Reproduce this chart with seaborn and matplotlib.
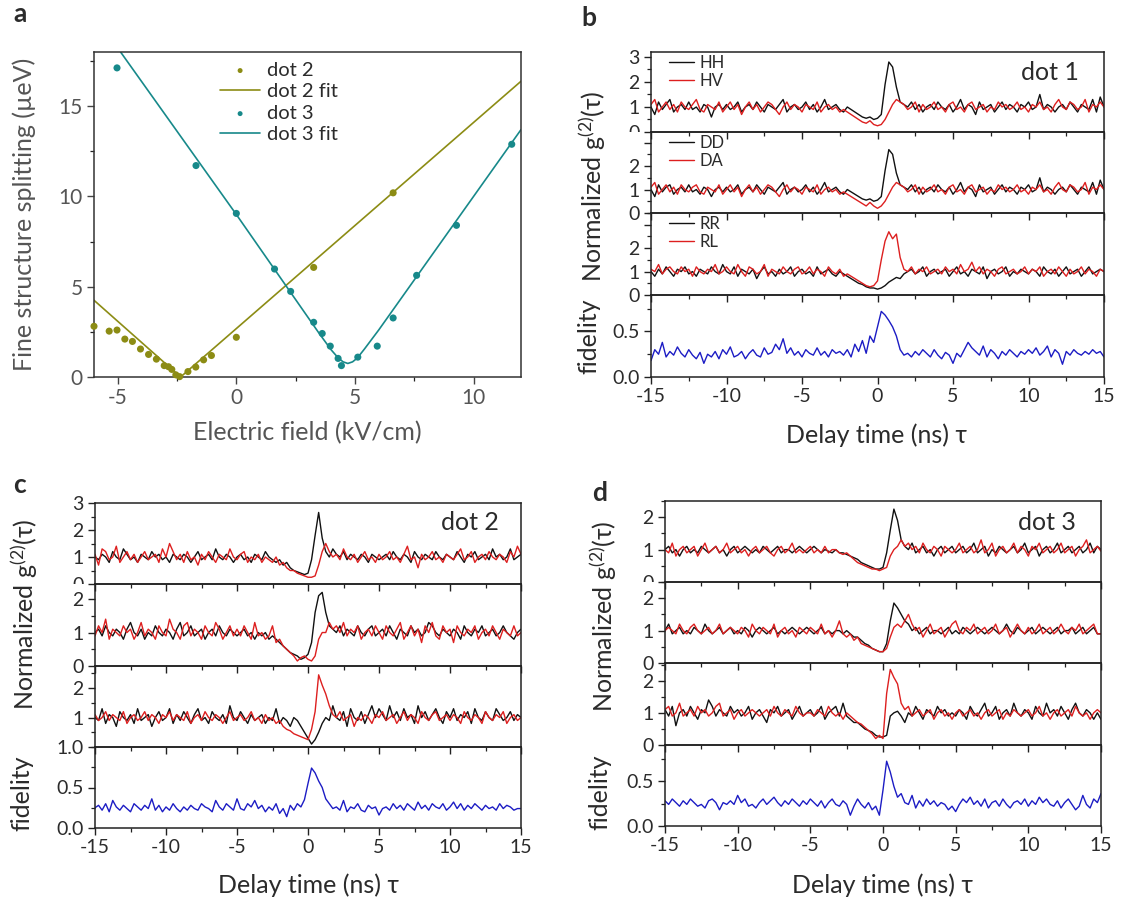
import numpy as np
import matplotlib
matplotlib.use("Agg")
import matplotlib.pyplot as plt
import seaborn as sns
from matplotlib.ticker import MultipleLocator, FixedLocator, FixedFormatter
from matplotlib.transforms import Bbox, TransformedBbox

# ---------------- panel a data ----------------
dot2_field = [-6.0, -5.36, -5.03, -4.70, -4.38, -4.04, -3.70, -3.37, -3.04, -2.86,
              -2.72, -2.55, -2.39, -2.04, -1.71, -1.38, -1.05, 0.0, 3.26, 6.61]
dot2_fss = [2.81, 2.54, 2.60, 2.10, 1.97, 1.55, 1.25, 0.99, 0.63, 0.57,
            0.42, 0.12, 0.02, 0.30, 0.55, 0.95, 1.19, 2.20, 6.07, 10.20]
dot2_fit_field = [-6.0, -2.35, 12.0]
dot2_fit_fss = [4.25, 0.0, 16.38]

dot3_field = [-5.03, -1.70, 0.0, 1.61, 2.29, 3.26, 3.62, 3.96, 4.29, 4.43,
              5.12, 5.94, 6.61, 7.60, 9.28, 11.61]
dot3_fss = [17.12, 11.71, 9.06, 5.98, 4.74, 3.03, 2.41, 1.71, 1.03, 0.63,
            1.10, 1.71, 3.27, 5.63, 8.40, 12.89]
dot3_fit_field = [-4.88, 0.0, 3.5, 4.0, 4.3, 4.5, 4.7, 4.9, 5.1, 5.4, 6.0, 12.0]
dot3_fit_fss = [18.0, 9.0, 2.4, 1.5, 1.05, 0.84, 0.75, 0.84, 1.05, 1.55, 2.6, 13.7]

# ---------------- correlation traces (0.25 ns bins, -15 ... 15 ns) ----------------
delay = np.round(np.arange(121) * 0.25 - 15.0, 2)

dot1_HH = [1.0, 0.7, 1.2, 0.9, 1.1, 1.3, 0.8, 1.0, 1.1, 0.9, 1.2, 0.9, 1.0, 0.8, 1.1, 1.0, 0.6, 1.0, 1.1, 0.9,
           1.1, 0.9, 1.0, 1.2, 0.8, 1.0, 1.1, 0.9, 1.2, 1.0, 0.8, 1.1, 1.0, 0.9, 1.1, 1.3, 0.8, 1.0, 1.1, 0.9,
           1.0, 1.2, 0.9, 1.1, 0.8, 1.0, 1.3, 0.9, 1.0, 1.1, 0.9, 0.8, 1.0, 0.9, 0.8, 0.7, 0.6, 0.55, 0.6, 0.5,
           0.55, 0.7, 1.9, 2.8, 2.6, 1.8, 1.2, 1.1, 1.0, 1.2, 0.9, 1.1, 0.8, 1.0, 1.1, 0.9, 1.2, 1.0, 0.9, 1.1,
           0.8, 1.0, 1.3, 0.9, 1.1, 1.0, 0.7, 1.2, 0.9, 1.0, 1.1, 0.8, 1.0, 1.2, 0.9, 1.1, 1.0, 0.8, 1.1, 1.0,
           1.2, 0.9, 1.0, 1.5, 0.9, 1.1, 1.0, 0.8, 1.0, 1.1, 0.9, 1.2, 1.0, 0.8, 1.1, 1.0, 0.9, 1.3, 0.8, 1.4, 1.0]
dot1_HV = [1.1, 1.3, 0.8, 1.0, 1.2, 0.9, 1.1, 0.8, 1.2, 1.0, 0.9, 1.1, 1.3, 0.9, 0.8, 1.1, 1.0, 0.9, 1.2, 0.8,
           1.0, 1.2, 0.9, 1.1, 0.7, 1.0, 1.2, 0.9, 1.1, 0.8, 1.0, 1.2, 1.1, 0.9, 0.7, 1.0, 1.2, 0.9, 1.1, 1.0,
           0.8, 1.1, 1.0, 0.9, 1.2, 0.8, 1.0, 1.1, 0.9, 1.0, 0.8, 0.9, 0.8, 0.7, 0.6, 0.5, 0.4, 0.35, 0.45, 0.3,
           0.25, 0.3, 0.5, 0.8, 1.1, 1.3, 1.2, 1.1, 0.9, 1.0, 1.2, 0.8, 1.1, 0.9, 1.0, 1.2, 0.9, 1.0, 0.8, 1.1,
           1.2, 0.9, 1.0, 0.8, 1.1, 1.2, 0.9, 1.0, 1.1, 0.8, 1.0, 0.9, 1.2, 1.0, 1.1, 0.9, 1.0, 1.2, 0.9, 1.0,
           0.8, 1.1, 1.0, 1.2, 0.9, 1.0, 0.8, 1.1, 1.3, 1.0, 0.9, 1.2, 1.1, 0.9, 1.0, 1.3, 0.8, 1.1, 1.0, 1.2, 1.0]
dot1_DD = [1.0, 0.7, 1.2, 0.9, 1.1, 1.2, 0.8, 1.0, 1.1, 0.9, 1.2, 0.9, 1.0, 0.8, 1.1, 1.0, 0.7, 1.0, 1.1, 0.9,
           1.1, 0.9, 1.0, 1.2, 0.8, 1.0, 1.1, 0.9, 1.2, 1.0, 0.8, 1.1, 1.0, 0.9, 1.1, 1.3, 0.8, 1.0, 1.1, 0.9,
           1.0, 1.2, 0.9, 1.1, 0.8, 1.0, 1.3, 0.9, 1.0, 1.1, 0.9, 0.8, 1.0, 0.9, 0.8, 0.7, 0.6, 0.55, 0.6, 0.5,
           0.55, 0.7, 1.8, 2.7, 2.5, 1.7, 1.2, 1.1, 1.0, 1.2, 0.9, 1.1, 0.8, 1.0, 1.1, 0.9, 1.2, 1.0, 0.9, 1.1,
           0.8, 1.0, 1.3, 0.9, 1.1, 1.0, 0.7, 1.2, 0.9, 1.0, 1.1, 0.8, 1.0, 1.2, 0.9, 1.1, 1.0, 0.8, 1.1, 1.0,
           1.2, 0.9, 1.0, 1.5, 0.9, 1.1, 1.0, 0.8, 1.0, 1.1, 0.9, 1.2, 1.0, 0.8, 1.1, 1.0, 0.9, 1.3, 0.8, 1.4, 1.0]
dot1_DA = [1.1, 1.3, 0.8, 1.0, 1.2, 0.9, 1.1, 0.8, 1.2, 1.0, 0.9, 1.1, 1.2, 0.9, 0.8, 1.1, 1.0, 0.9, 1.2, 0.8,
           1.0, 1.2, 0.9, 1.1, 0.7, 1.0, 1.2, 0.9, 1.1, 0.8, 1.0, 1.2, 1.1, 0.9, 0.7, 1.0, 1.2, 0.9, 1.1, 1.0,
           0.8, 1.1, 1.0, 0.9, 1.2, 0.8, 1.0, 1.1, 0.9, 1.0, 0.8, 0.9, 0.8, 0.7, 0.6, 0.5, 0.4, 0.3, 0.45, 0.3,
           0.2, 0.3, 0.5, 0.8, 1.1, 1.3, 1.2, 1.1, 0.9, 1.0, 1.2, 0.8, 1.1, 0.9, 1.0, 1.2, 0.9, 1.0, 0.8, 1.1,
           1.2, 0.9, 1.0, 0.8, 1.1, 1.2, 0.9, 1.0, 1.1, 0.8, 1.0, 0.9, 1.2, 1.0, 1.1, 0.9, 1.0, 1.2, 0.9, 1.0,
           0.8, 1.1, 1.0, 1.2, 0.9, 1.0, 0.8, 1.1, 1.3, 1.0, 0.9, 1.2, 1.1, 0.9, 1.0, 1.3, 0.8, 1.1, 1.0, 1.2, 1.0]
dot1_RR = [1.0, 0.8, 1.1, 0.9, 1.2, 1.0, 0.8, 1.1, 1.0, 1.2, 0.9, 1.0, 0.8, 1.1, 1.0, 0.9, 1.2, 1.0, 0.9, 1.3,
           1.0, 0.9, 1.2, 0.8, 1.1, 1.0, 0.9, 1.1, 0.7, 1.0, 1.2, 0.9, 1.0, 0.8, 1.1, 0.9, 1.0, 1.2, 0.8, 1.0,
           1.1, 0.9, 1.0, 0.8, 1.2, 0.9, 1.0, 1.1, 0.9, 0.8, 1.0, 0.9, 0.8, 0.7, 0.6, 0.5, 0.45, 0.35, 0.3, 0.3,
           0.25, 0.3, 0.4, 0.55, 0.65, 0.75, 0.7, 0.9, 1.0, 1.1, 0.9, 1.0, 1.2, 0.8, 1.0, 1.1, 0.9, 1.0, 1.1, 0.8,
           1.0, 1.2, 0.9, 1.0, 0.8, 1.1, 1.0, 0.9, 1.2, 0.7, 1.0, 1.1, 0.9, 1.0, 1.2, 0.8, 1.0, 0.9, 1.1, 1.0,
           0.9, 1.1, 1.0, 0.8, 1.2, 1.0, 0.9, 1.1, 0.8, 1.0, 1.2, 0.9, 1.0, 1.1, 0.8, 1.0, 1.2, 0.9, 1.0, 1.1, 1.0]
dot1_RL = [1.1, 1.0, 1.3, 0.9, 1.1, 1.2, 1.0, 0.9, 1.2, 1.0, 1.1, 0.8, 1.2, 1.0, 0.9, 1.1, 1.0, 1.3, 0.9, 1.0,
           1.2, 1.0, 0.9, 1.3, 1.0, 0.8, 1.2, 1.1, 0.9, 1.0, 1.3, 0.8, 1.1, 1.0, 0.9, 1.2, 1.0, 0.9, 1.1, 1.2,
           0.9, 1.0, 1.2, 0.9, 1.1, 1.0, 0.8, 1.2, 1.0, 0.9, 1.1, 0.8, 0.9, 0.8, 0.7, 0.6, 0.5, 0.4, 0.35, 0.4,
           0.6, 1.5, 2.3, 2.7, 2.4, 2.6, 1.6, 1.1, 1.0, 1.2, 0.9, 1.1, 1.0, 1.2, 0.9, 1.0, 1.1, 0.9, 1.2, 1.0,
           1.1, 0.9, 1.3, 1.0, 1.1, 1.4, 1.0, 1.2, 0.9, 1.1, 1.0, 0.8, 1.1, 1.2, 0.9, 1.0, 1.1, 0.9, 1.0, 1.2,
           0.9, 1.1, 1.0, 1.2, 0.8, 1.0, 1.1, 0.9, 1.2, 1.0, 0.8, 1.1, 0.9, 1.0, 1.2, 0.9, 1.1, 1.0, 0.8, 1.1, 1.0]
dot1_fidelity = [0.18, 0.30, 0.25, 0.38, 0.22, 0.28, 0.24, 0.33, 0.26, 0.22, 0.30, 0.24, 0.20, 0.27, 0.15, 0.25, 0.22, 0.28, 0.20, 0.30,
                 0.25, 0.33, 0.22, 0.24, 0.28, 0.20, 0.26, 0.30, 0.24, 0.22, 0.32, 0.25, 0.27, 0.36, 0.30, 0.42, 0.26, 0.32, 0.24, 0.28,
                 0.22, 0.30, 0.26, 0.24, 0.32, 0.24, 0.28, 0.22, 0.30, 0.26, 0.28, 0.24, 0.30, 0.22, 0.36, 0.28, 0.40, 0.26, 0.45, 0.38,
                 0.55, 0.72, 0.68, 0.62, 0.55, 0.45, 0.30, 0.24, 0.26, 0.22, 0.28, 0.24, 0.30, 0.26, 0.22, 0.30, 0.24, 0.20, 0.27, 0.24,
                 0.15, 0.26, 0.22, 0.30, 0.38, 0.32, 0.28, 0.24, 0.34, 0.22, 0.30, 0.26, 0.20, 0.28, 0.24, 0.30, 0.26, 0.22, 0.28, 0.25,
                 0.30, 0.26, 0.32, 0.24, 0.28, 0.34, 0.22, 0.30, 0.26, 0.14, 0.28, 0.24, 0.30, 0.26, 0.24, 0.28, 0.25, 0.30, 0.26, 0.28, 0.22]

dot2_HH = [1.0, 0.9, 1.1, 1.0, 0.8, 1.2, 1.0, 0.9, 1.3, 1.1, 0.9, 1.0, 0.8, 1.1, 1.0, 0.9, 1.2, 1.0, 1.1, 0.9,
           1.0, 0.8, 1.1, 1.0, 0.9, 1.1, 1.0, 0.8, 1.0, 1.2, 0.9, 1.0, 1.1, 0.9, 1.3, 1.0, 0.9, 1.1, 1.0, 0.8,
           1.0, 1.1, 0.9, 1.0, 0.8, 1.1, 1.0, 0.9, 1.2, 1.0, 0.9, 0.8, 0.9, 0.7, 0.8, 0.6, 0.5, 0.45, 0.4, 0.35,
           0.4, 0.9, 1.8, 2.65, 1.7, 1.2, 1.0, 1.3, 1.1, 1.0, 1.2, 0.9, 1.1, 1.0, 0.9, 1.1, 1.0, 0.8, 1.1, 1.0,
           0.9, 1.0, 1.1, 0.9, 1.2, 1.0, 0.9, 1.1, 1.0, 0.8, 1.2, 1.0, 0.9, 1.1, 1.0, 0.9, 1.2, 1.0, 0.9, 1.1,
           1.0, 0.9, 1.2, 1.0, 0.8, 1.1, 1.0, 1.2, 0.9, 1.0, 1.1, 0.9, 1.3, 1.0, 1.1, 0.9, 1.0, 1.3, 0.9, 1.0, 1.1]
dot2_HV = [1.1, 0.7, 1.3, 1.2, 0.9, 1.0, 1.4, 0.8, 1.0, 1.2, 0.9, 1.1, 0.8, 1.0, 1.2, 0.9, 1.0, 1.1, 0.8, 1.3,
           1.0, 1.5, 1.2, 0.9, 1.1, 0.8, 1.2, 0.9, 1.0, 0.7, 1.1, 0.9, 1.2, 1.0, 0.8, 1.1, 1.0, 0.9, 1.3, 1.0,
           0.9, 1.1, 1.2, 0.8, 1.0, 0.9, 1.1, 0.8, 1.0, 0.9, 0.8, 1.0, 0.7, 0.8, 0.6, 0.5, 0.5, 0.4, 0.35, 0.3,
           0.25, 0.25, 0.3, 0.7, 1.2, 1.5, 1.2, 1.0, 1.1, 0.9, 1.3, 1.0, 0.9, 1.1, 0.8, 1.0, 1.2, 0.9, 1.0, 0.8,
           1.1, 0.9, 1.0, 1.2, 0.9, 1.0, 0.8, 1.1, 1.4, 0.9, 1.0, 0.6, 1.1, 0.9, 1.0, 1.2, 0.9, 1.0, 0.8, 1.1,
           1.0, 0.9, 1.1, 1.3, 0.9, 1.0, 1.2, 0.8, 1.0, 1.1, 0.9, 1.2, 1.0, 0.9, 1.1, 1.0, 0.8, 1.2, 1.0, 1.4, 1.1]
dot2_DD = [1.0, 1.1, 0.9, 1.2, 1.0, 0.9, 1.1, 1.0, 0.8, 1.1, 1.3, 1.0, 0.9, 1.1, 0.8, 1.0, 0.9, 1.2, 1.0, 0.9,
           1.1, 1.0, 0.8, 1.1, 1.3, 0.9, 1.0, 1.2, 0.9, 1.0, 1.1, 0.8, 1.0, 1.1, 0.9, 1.2, 1.0, 0.9, 1.1, 1.0,
           0.9, 1.0, 1.1, 0.9, 1.0, 0.8, 1.0, 0.9, 1.0, 0.8, 0.9, 0.8, 0.7, 0.6, 0.5, 0.4, 0.35, 0.3, 0.2, 0.25,
           0.35, 0.7, 1.6, 2.1, 2.2, 1.6, 1.2, 1.1, 1.0, 1.2, 0.9, 1.1, 1.0, 0.9, 1.2, 1.0, 0.9, 1.1, 1.2, 0.9,
           1.0, 1.1, 0.9, 1.2, 1.0, 0.8, 1.1, 1.0, 0.9, 1.2, 1.0, 1.1, 0.9, 1.0, 1.3, 1.2, 1.0, 0.9, 1.1, 1.0,
           0.9, 1.1, 1.0, 0.8, 1.2, 1.0, 0.9, 1.1, 1.0, 1.2, 0.9, 1.0, 1.1, 0.9, 1.0, 1.2, 1.0, 0.9, 0.8, 1.0, 1.1]
dot2_DA = [0.9, 1.2, 1.0, 1.4, 0.8, 1.1, 1.0, 0.9, 1.2, 1.0, 1.1, 0.8, 1.0, 1.3, 0.9, 1.1, 1.0, 0.8, 1.2, 1.0,
           0.9, 1.4, 1.1, 1.0, 0.8, 1.2, 1.3, 0.9, 1.1, 1.0, 0.8, 1.2, 1.0, 0.9, 1.3, 1.1, 0.8, 1.0, 1.2, 0.9,
           1.1, 0.9, 1.2, 1.0, 0.8, 1.3, 0.9, 1.0, 0.8, 0.9, 1.2, 0.7, 0.8, 0.6, 0.5, 0.4, 0.3, 0.15, 0.25, 0.3,
           0.2, 0.15, 0.3, 0.8, 1.0, 1.0, 1.3, 1.1, 1.2, 1.0, 1.3, 0.9, 1.1, 1.0, 1.2, 0.8, 1.0, 1.1, 0.9, 1.2,
           1.0, 0.8, 1.2, 1.0, 0.9, 1.1, 1.3, 0.8, 1.0, 1.2, 0.9, 1.1, 0.7, 1.2, 1.0, 1.3, 0.9, 0.8, 1.2, 1.0,
           1.1, 0.7, 1.2, 1.0, 0.9, 1.1, 1.0, 1.2, 0.8, 1.0, 1.1, 0.9, 1.2, 1.0, 0.8, 1.1, 1.0, 0.9, 1.2, 0.9, 1.0]
dot2_RR = [1.0, 0.9, 1.3, 0.8, 1.1, 1.0, 0.7, 1.2, 1.0, 0.9, 1.1, 0.8, 1.3, 0.9, 1.0, 1.1, 0.7, 1.0, 1.2, 0.9,
           1.0, 1.3, 0.8, 1.1, 0.9, 1.2, 1.0, 0.8, 1.1, 1.3, 0.9, 1.0, 0.8, 1.2, 1.0, 0.9, 1.1, 0.8, 1.4, 1.0,
           0.9, 1.2, 1.0, 0.8, 1.1, 0.9, 1.0, 1.1, 0.8, 1.0, 0.9, 1.3, 0.8, 1.0, 0.9, 0.7, 1.0, 0.9, 0.7, 0.5,
           0.3, 0.1, 0.25, 0.5, 0.8, 1.0, 0.9, 1.4, 1.0, 0.9, 1.2, 0.7, 1.3, 1.0, 0.9, 1.2, 0.8, 1.1, 1.4, 1.0,
           1.3, 1.1, 0.9, 1.4, 1.0, 1.2, 0.9, 1.3, 1.0, 1.1, 0.8, 1.4, 1.0, 1.2, 0.9, 1.1, 1.3, 1.0, 0.8, 1.2,
           1.0, 1.3, 0.9, 1.1, 1.0, 1.2, 0.8, 1.3, 1.0, 0.9, 1.2, 1.0, 0.9, 1.3, 1.1, 0.9, 1.0, 1.2, 0.9, 1.1, 1.0]
dot2_RL = [1.1, 0.9, 1.0, 1.2, 0.9, 1.1, 1.0, 0.9, 1.2, 0.8, 1.0, 1.1, 0.9, 1.0, 1.2, 0.9, 1.1, 1.0, 0.8, 1.1,
           1.0, 1.2, 0.9, 1.1, 1.0, 0.9, 1.2, 0.8, 1.0, 1.1, 0.9, 1.2, 1.0, 0.9, 1.1, 1.0, 0.8, 1.0, 1.2, 0.9,
           1.0, 1.1, 0.9, 1.0, 1.2, 0.9, 1.0, 0.8, 1.1, 0.9, 1.0, 0.8, 0.9, 0.7, 0.6, 0.55, 0.45, 0.4, 0.35, 0.3,
           0.25, 0.6, 1.2, 2.45, 2.1, 1.8, 1.4, 1.1, 1.0, 1.2, 0.9, 1.0, 1.1, 0.7, 1.0, 0.9, 1.1, 1.0, 0.8, 1.1,
           1.0, 1.2, 0.9, 1.0, 1.1, 0.8, 1.0, 1.2, 0.9, 1.1, 1.0, 0.8, 1.2, 1.0, 0.9, 1.1, 1.2, 0.9, 1.0, 1.1,
           0.9, 1.1, 1.0, 0.8, 1.2, 1.0, 0.9, 1.1, 1.0, 0.8, 1.2, 1.0, 0.9, 1.1, 1.0, 1.2, 0.8, 1.0, 1.1, 0.9, 1.0]
dot2_fidelity = [0.25, 0.28, 0.22, 0.30, 0.20, 0.34, 0.26, 0.22, 0.28, 0.24, 0.20, 0.30, 0.26, 0.22, 0.28, 0.24, 0.36, 0.22, 0.28, 0.20,
                 0.26, 0.22, 0.30, 0.24, 0.20, 0.26, 0.22, 0.28, 0.24, 0.22, 0.30, 0.26, 0.24, 0.20, 0.34, 0.26, 0.22, 0.30, 0.26, 0.22,
                 0.36, 0.24, 0.22, 0.30, 0.26, 0.34, 0.24, 0.28, 0.20, 0.26, 0.22, 0.30, 0.18, 0.24, 0.14, 0.28, 0.22, 0.30, 0.26, 0.35,
                 0.55, 0.74, 0.68, 0.58, 0.50, 0.36, 0.30, 0.24, 0.26, 0.22, 0.34, 0.20, 0.26, 0.24, 0.30, 0.22, 0.20, 0.28, 0.24, 0.26,
                 0.16, 0.24, 0.26, 0.22, 0.30, 0.24, 0.28, 0.22, 0.30, 0.26, 0.22, 0.32, 0.24, 0.28, 0.22, 0.30, 0.26, 0.24, 0.30, 0.22,
                 0.26, 0.32, 0.24, 0.30, 0.22, 0.28, 0.24, 0.30, 0.26, 0.22, 0.28, 0.24, 0.26, 0.22, 0.30, 0.24, 0.28, 0.26, 0.22, 0.24, 0.24]

dot3_HH = [1.0, 1.1, 0.9, 1.0, 0.8, 1.0, 1.1, 0.9, 1.0, 0.9, 1.1, 1.0, 0.9, 1.0, 1.1, 0.9, 1.0, 0.8, 1.0, 1.1,
           0.9, 1.0, 1.1, 1.0, 0.9, 1.0, 0.9, 1.1, 1.0, 0.9, 1.0, 1.1, 0.9, 1.0, 1.0, 0.9, 1.0, 1.1, 1.0, 0.9,
           1.0, 1.1, 1.0, 0.9, 1.0, 0.95, 0.9, 1.0, 0.9, 0.9, 0.85, 0.8, 0.75, 0.7, 0.6, 0.55, 0.5, 0.45, 0.4, 0.4,
           0.45, 0.9, 1.6, 2.25, 1.9, 1.3, 1.1, 1.0, 1.2, 0.9, 1.0, 1.1, 0.9, 1.0, 0.8, 1.0, 1.1, 0.9, 1.0, 1.1,
           0.9, 1.0, 1.1, 0.9, 1.0, 1.2, 0.9, 1.0, 1.1, 0.8, 1.0, 0.9, 1.1, 1.0, 0.9, 1.0, 1.1, 0.9, 1.0, 1.2,
           0.9, 1.0, 1.1, 0.8, 1.0, 1.1, 0.9, 1.0, 1.2, 0.9, 1.0, 1.1, 0.9, 1.0, 1.1, 0.9, 1.0, 1.2, 0.9, 1.1, 1.0]
dot3_HV = [1.0, 0.9, 1.2, 0.8, 1.0, 1.1, 0.9, 1.0, 1.1, 0.8, 1.0, 1.2, 0.9, 1.0, 1.1, 0.9, 1.0, 1.2, 0.9, 1.0,
           1.1, 0.9, 1.0, 0.8, 1.0, 1.1, 0.9, 1.0, 1.1, 0.9, 0.8, 1.0, 1.1, 0.9, 1.0, 1.2, 0.9, 1.0, 0.9, 1.0,
           1.1, 0.9, 1.0, 0.9, 1.1, 0.9, 1.0, 1.0, 0.9, 0.85, 0.9, 0.8, 0.7, 0.6, 0.55, 0.5, 0.45, 0.4, 0.4, 0.35,
           0.4, 0.45, 0.8, 1.0, 1.1, 1.3, 1.1, 1.2, 1.0, 1.1, 0.9, 1.2, 1.0, 0.9, 1.1, 1.0, 0.8, 1.1, 1.0, 0.9,
           1.0, 1.2, 0.9, 1.0, 1.1, 0.9, 1.0, 1.3, 0.9, 1.0, 1.2, 0.8, 1.0, 1.1, 0.9, 1.0, 1.2, 0.9, 1.1, 1.0,
           0.8, 1.1, 1.0, 1.2, 0.9, 1.0, 1.1, 0.9, 1.0, 1.2, 0.9, 1.0, 1.1, 0.8, 1.0, 1.1, 1.3, 0.9, 1.0, 1.1, 0.95]
dot3_DD = [1.0, 1.2, 0.9, 1.0, 1.1, 0.9, 1.0, 0.9, 1.1, 1.0, 0.9, 1.2, 1.0, 0.9, 1.0, 1.1, 0.9, 1.0, 1.1, 0.9,
           1.0, 0.9, 1.1, 1.0, 0.8, 1.0, 1.1, 1.0, 0.9, 1.0, 1.1, 0.9, 1.0, 0.9, 1.0, 1.1, 1.0, 0.9, 1.0, 1.1,
           1.0, 0.9, 1.0, 1.1, 0.9, 1.0, 0.9, 1.0, 1.0, 0.9, 1.0, 0.9, 0.8, 0.8, 0.7, 0.6, 0.55, 0.45, 0.4, 0.35,
           0.35, 0.6, 1.3, 1.85, 1.7, 1.5, 1.3, 1.2, 1.0, 1.1, 0.9, 1.0, 1.1, 0.9, 1.0, 1.0, 0.9, 1.0, 1.1, 0.9,
           1.0, 0.9, 1.1, 1.0, 0.9, 1.0, 1.1, 1.0, 0.9, 1.0, 1.1, 1.0, 0.9, 1.0, 1.2, 1.0, 0.9, 1.1, 1.0, 0.9,
           1.0, 1.1, 0.9, 1.0, 1.1, 1.0, 0.9, 1.0, 1.1, 0.9, 1.0, 1.0, 1.1, 0.9, 1.0, 1.1, 0.9, 1.0, 1.1, 0.9, 0.9]
dot3_DA = [1.0, 1.1, 1.0, 0.9, 1.2, 1.0, 0.9, 1.1, 1.2, 1.0, 0.9, 1.0, 1.1, 0.9, 1.0, 1.2, 0.9, 1.0, 1.1, 1.0,
           0.9, 1.1, 1.0, 0.8, 1.2, 1.0, 0.9, 1.1, 1.0, 0.9, 1.2, 0.8, 1.0, 1.1, 0.9, 1.0, 0.8, 1.1, 1.0, 0.9,
           1.1, 1.0, 0.9, 1.2, 0.9, 1.0, 0.8, 1.0, 1.3, 0.9, 0.8, 0.9, 0.7, 0.8, 0.6, 0.55, 0.5, 0.45, 0.4, 0.35,
           0.35, 0.45, 0.8, 1.1, 1.2, 1.1, 1.3, 1.5, 1.2, 1.0, 1.1, 0.8, 1.0, 1.2, 0.9, 1.0, 1.1, 0.8, 1.0, 1.2,
           1.3, 1.0, 0.9, 1.1, 1.0, 1.2, 0.9, 1.0, 1.1, 0.9, 1.0, 1.2, 0.9, 1.0, 1.1, 0.8, 1.0, 1.2, 1.0, 0.9,
           1.1, 0.9, 1.0, 1.2, 0.9, 1.0, 1.1, 0.9, 1.0, 1.2, 1.0, 0.9, 1.1, 1.0, 1.2, 0.9, 1.0, 1.1, 1.2, 0.9, 0.9]
dot3_RR = [1.1, 0.9, 1.2, 0.6, 1.0, 1.1, 0.9, 1.2, 1.0, 0.8, 1.1, 1.0, 1.4, 1.2, 0.9, 1.1, 1.0, 0.9, 1.2, 1.0,
           1.1, 0.9, 1.0, 1.2, 0.8, 1.0, 1.1, 0.9, 0.7, 1.1, 1.0, 1.2, 0.9, 1.0, 1.1, 0.8, 1.0, 1.2, 0.9, 1.0,
           1.1, 0.9, 1.0, 1.2, 0.8, 1.0, 1.1, 1.2, 0.9, 1.3, 0.9, 0.8, 0.7, 0.7, 0.6, 0.5, 0.45, 0.4, 0.3, 0.25,
           0.25, 0.3, 0.9, 1.0, 1.05, 0.9, 0.7, 1.0, 0.9, 1.2, 1.0, 0.8, 1.1, 1.0, 0.9, 1.2, 1.0, 1.1, 0.9, 1.0,
           0.9, 1.1, 1.0, 0.8, 1.2, 1.0, 0.9, 1.1, 1.3, 0.9, 1.0, 1.2, 0.8, 1.0, 1.1, 0.9, 1.3, 1.0, 0.9, 1.1,
           1.0, 0.8, 1.2, 1.0, 0.9, 1.3, 1.0, 1.1, 0.9, 1.2, 1.0, 0.8, 1.1, 1.3, 1.0, 0.9, 1.1, 1.0, 0.8, 1.0, 0.8]
dot3_RL = [1.1, 1.2, 0.9, 1.0, 1.3, 0.9, 1.0, 1.1, 0.9, 1.2, 1.0, 1.1, 0.9, 1.0, 1.2, 1.3, 0.9, 1.0, 1.1, 0.8,
           1.0, 1.1, 0.9, 1.0, 1.1, 1.0, 0.9, 1.0, 1.1, 0.9, 1.2, 1.0, 0.9, 1.1, 1.0, 0.9, 1.2, 1.0, 0.9, 1.0,
           1.0, 0.9, 1.1, 1.0, 0.9, 1.2, 1.0, 0.9, 1.0, 0.8, 1.0, 0.9, 0.8, 0.7, 0.65, 0.55, 0.45, 0.35, 0.2, 0.3,
           0.2, 1.6, 2.35, 2.1, 1.9, 1.3, 1.1, 1.2, 0.9, 1.0, 1.1, 0.9, 1.0, 1.1, 0.8, 1.0, 1.1, 0.9, 1.0, 0.8,
           1.0, 1.1, 0.9, 1.0, 1.1, 0.9, 1.0, 0.8, 1.0, 1.1, 0.9, 1.0, 1.1, 0.8, 1.0, 0.9, 1.1, 1.0, 0.9, 1.0,
           1.1, 0.9, 1.0, 1.2, 0.9, 1.0, 0.8, 1.0, 1.1, 0.9, 1.0, 1.1, 0.9, 1.2, 1.0, 0.9, 1.0, 0.8, 1.0, 1.1, 1.0]
dot3_fidelity = [0.28, 0.24, 0.30, 0.26, 0.22, 0.28, 0.24, 0.30, 0.26, 0.22, 0.24, 0.20, 0.28, 0.30, 0.26, 0.18, 0.26, 0.24, 0.28, 0.24,
                 0.34, 0.26, 0.30, 0.22, 0.24, 0.20, 0.26, 0.30, 0.24, 0.28, 0.32, 0.26, 0.22, 0.28, 0.24, 0.30, 0.26, 0.22, 0.28, 0.24,
                 0.30, 0.26, 0.22, 0.28, 0.20, 0.26, 0.30, 0.24, 0.22, 0.28, 0.24, 0.12, 0.22, 0.30, 0.24, 0.20, 0.26, 0.18, 0.22, 0.12,
                 0.40, 0.72, 0.60, 0.44, 0.32, 0.36, 0.26, 0.24, 0.34, 0.20, 0.28, 0.22, 0.30, 0.24, 0.28, 0.22, 0.26, 0.24, 0.18, 0.22,
                 0.16, 0.24, 0.30, 0.26, 0.32, 0.24, 0.28, 0.22, 0.30, 0.20, 0.26, 0.28, 0.22, 0.30, 0.24, 0.20, 0.26, 0.28, 0.24, 0.30,
                 0.22, 0.28, 0.24, 0.32, 0.26, 0.30, 0.24, 0.22, 0.28, 0.20, 0.26, 0.30, 0.24, 0.18, 0.22, 0.34, 0.24, 0.20, 0.30, 0.26, 0.36]

pair_labels = [("HH", "HV"), ("DD", "DA"), ("RR", "RL")]

# ---------------- style ----------------
sns.set_theme(style="ticks")
TEXT = "#2b2b2b"
GREY = "#555555"
plt.rcParams.update({
    "font.family": ["Lato", "DejaVu Sans"],
    "mathtext.fontset": "custom",
    "mathtext.rm": "Lato",
    "mathtext.it": "Lato:italic",
    "axes.unicode_minus": False,
    "text.color": TEXT,
    "axes.labelcolor": TEXT,
    "xtick.color": "#222222",
    "ytick.color": "#222222",
    "xtick.labelcolor": TEXT,
    "ytick.labelcolor": TEXT,
    "axes.edgecolor": "#222222",
    "axes.linewidth": 1.1,
    "xtick.direction": "out",
    "ytick.direction": "out",
    "xtick.major.size": 5,
    "ytick.major.size": 5,
    "xtick.minor.size": 3,
    "ytick.minor.size": 3,
    "xtick.major.width": 1.0,
    "ytick.major.width": 1.0,
    "xtick.minor.width": 0.9,
    "ytick.minor.width": 0.9,
    "xtick.major.pad": 3,
    "ytick.major.pad": 3,
})

OLIVE = "#8c8c14"
TEAL = "#17898a"
BLACK = "#111111"
RED = "#dd1f1f"
BLUE = "#1c1cc4"

W, H = 1123, 905
fig = plt.figure(figsize=(W / 100, H / 100), dpi=100)


def box(l, t, r, b):
    return [l / W, 1 - b / H, (r - l) / W, (b - t) / H]


def ftext(x, y, s, **kw):
    fig.text(x / W, 1 - y / H, s, ha="center", va="center", **kw)


# ---------------- panel a ----------------
axa = fig.add_axes(box(94, 52, 521, 377))
sns.lineplot(x=dot2_fit_field, y=dot2_fit_fss, ax=axa, color=OLIVE, linewidth=1.2, label="dot 2 fit",
             errorbar=None, sort=False)
sns.lineplot(x=dot3_fit_field, y=dot3_fit_fss, ax=axa, color=TEAL, linewidth=1.2, label="dot 3 fit",
             errorbar=None, sort=False)
sns.scatterplot(x=dot2_field, y=dot2_fss, ax=axa, color=OLIVE, s=26, edgecolor="none", label="dot 2",
                zorder=3, clip_on=False)
sns.scatterplot(x=dot3_field, y=dot3_fss, ax=axa, color=TEAL, s=26, edgecolor="none", label="dot 3",
                zorder=3, clip_on=False)
axa.set_xlim(-6, 12)
axa.set_ylim(0, 18)
axa.xaxis.set_major_locator(FixedLocator([-5, 0, 5, 10]))
axa.xaxis.set_minor_locator(FixedLocator([-2.5, 2.5, 7.5]))
axa.yaxis.set_major_locator(FixedLocator([0, 5, 10, 15]))
axa.yaxis.set_minor_locator(FixedLocator([2.5, 7.5, 12.5, 17.5]))
axa.tick_params(labelsize=15, labelcolor=GREY, color="#444444")
for s in axa.spines.values():
    s.set_color("#333333")
axa.set_xlabel("")
axa.set_ylabel("")
hl = dict(zip(*reversed(axa.get_legend_handles_labels())))
order = ["dot 2", "dot 2 fit", "dot 3", "dot 3 fit"]
axa.legend([hl[k] for k in order], order, loc="upper left", bbox_to_anchor=(0.295, 0.97),
           frameon=False, fontsize=14.5, handlelength=2.0, handletextpad=0.35,
           labelspacing=0.22, borderpad=0, borderaxespad=0, markerscale=0.7)
ftext(307, 433, "Electric field (kV/cm)", fontsize=18, color=GREY)
ftext(24, 214, "Fine structure splitting (\u00b5eV)", fontsize=18, rotation=90, color=GREY)
ftext(20, 14, "a", fontsize=19, fontweight="bold")


# ---------------- trace panels ----------------
def trace_panel(left, right, rows, ylims, g2_pairs, fidelity, yticklabels, dot_text, dot_xy,
                legends, letter, letter_xy, ylab_xy, fid_xy, xlab_xy):
    axes = []
    for k, (top, bot) in enumerate(rows):
        ax = fig.add_axes(box(left, top, right, bot))
        ax.set_facecolor("none")
        if k < 3:
            blk, red = g2_pairs[k]
            lb, lr = pair_labels[k]
            sns.lineplot(x=delay, y=blk, ax=ax, color=BLACK, linewidth=1.0, errorbar=None,
                         label=lb if legends else None)
            sns.lineplot(x=delay, y=red, ax=ax, color=RED, linewidth=1.0, errorbar=None,
                         label=lr if legends else None)
            ax.yaxis.set_minor_locator(MultipleLocator(0.5))
        else:
            sns.lineplot(x=delay, y=fidelity, ax=ax, color=BLUE, linewidth=1.0, errorbar=None)
            ax.yaxis.set_minor_locator(MultipleLocator(0.25))
        ax.set_xlim(-15, 15)
        ax.set_ylim(0, ylims[k])
        ticks, labs = yticklabels[k]
        ax.yaxis.set_major_locator(FixedLocator(ticks))
        ax.yaxis.set_major_formatter(FixedFormatter(labs))
        ax.xaxis.set_major_locator(MultipleLocator(5))
        ax.xaxis.set_minor_locator(MultipleLocator(2.5))
        ax.tick_params(labelsize=14)
        ax.tick_params(axis="x", labelbottom=(k == 3))
        ax.set_xlabel("")
        ax.set_ylabel("")
        if legends and k < 3:
            ax.legend(loc="upper left", bbox_to_anchor=(0.04, 0.96), frameon=False, fontsize=12,
                      handlelength=1.5, handletextpad=0.35, labelspacing=0.1, borderpad=0,
                      borderaxespad=0)
        elif ax.get_legend() is not None:
            ax.get_legend().remove()
        axes.append(ax)
    # the "0" label of the top panel is cut by the boundary with the next panel, as in the original
    clip = TransformedBbox(Bbox([[0, 1 - rows[0][1] / H], [1, 1]]), fig.transFigure)
    lab0 = axes[0].yaxis.get_major_ticks()[0].label1
    lab0.set_clip_box(clip)
    lab0.set_clip_on(True)
    axes[0].text(dot_xy[0], dot_xy[1], dot_text, transform=axes[0].transAxes, fontsize=18,
                 ha="center", va="center")
    ftext(letter_xy[0], letter_xy[1], letter, fontsize=19, fontweight="bold")
    ftext(ylab_xy[0], ylab_xy[1], "Normalized g$^{(2)}$(\u03c4)", fontsize=18, rotation=90)
    ftext(fid_xy[0], fid_xy[1], "fidelity", fontsize=18, rotation=90)
    ftext(xlab_xy[0], xlab_xy[1], "Delay time (ns) \u03c4", fontsize=18)
    return axes


fid_ticks = ([0.0, 0.5], ["0.0", "0.5"])

trace_panel(651, 1104, [(52, 132), (132, 213), (213, 295), (295, 377)],
            [3.2, 3.45, 3.5, 0.9],
            [(dot1_HH, dot1_HV), (dot1_DD, dot1_DA), (dot1_RR, dot1_RL)], dot1_fidelity,
            [([0, 1, 2, 3], ["0", "1", "2", "3"]), ([0, 1, 2, 3], ["0", "1", "2", ""]),
             ([0, 1, 2, 3], ["0", "1", "2", ""]), fid_ticks],
            "dot 1", (0.881, 0.75), True, "b", (589, 18), (592, 186), (589, 336), (877, 435))

trace_panel(95, 521, [(503, 584), (584, 666), (666, 747), (747, 828)],
            [3.0, 2.45, 2.75, 1.0],
            [(dot2_HH, dot2_HV), (dot2_DD, dot2_DA), (dot2_RR, dot2_RL)], dot2_fidelity,
            [([0, 1, 2, 3], ["0", "1", "2", "3"]), ([0, 1, 2], ["0", "1", "2"]),
             ([0, 1, 2], ["1.0", "1", "2"]), fid_ticks],
            "dot 2", (0.88, 0.757), False, "c", (19, 485), (24, 614), (22, 793), (308, 885))

trace_panel(665, 1101, [(501, 582), (582, 663), (663, 745), (745, 826)],
            [2.5, 2.5, 2.55, 0.9],
            [(dot3_HH, dot3_HV), (dot3_DD, dot3_DA), (dot3_RR, dot3_RL)], dot3_fidelity,
            [([0, 1, 2], ["0", "1", "2"]), ([0, 1, 2], ["0", "1", "2"]),
             ([0, 1, 2], ["0", "1", "2"]), fid_ticks],
            "dot 3", (0.877, 0.732), False, "d", (600, 493), (603, 616), (600, 792), (883, 885))

fig.savefig("out.png", dpi=100, facecolor="white")
